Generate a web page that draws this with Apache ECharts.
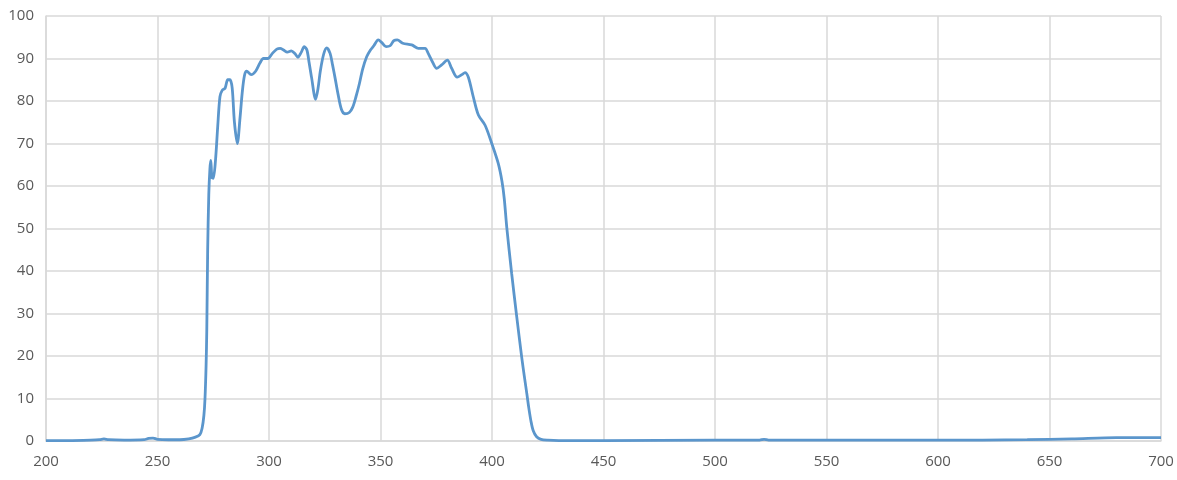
<!DOCTYPE html>
<html>
<head>
<meta charset="utf-8">
<script src="https://cdn.jsdelivr.net/npm/echarts@6/dist/echarts.min.js"></script>
<style>html,body{margin:0;padding:0;background:#fff;}#c{width:1177px;height:480px;}</style>
</head>
<body>
<div id="c"></div>
<script>
const wavelength = [200,210,220,224,226,228,235,244,246,248,250,255,260,264,267,269,270,270.8,271.3,271.8,272.1,272.5,273.0,273.5,273.9,274.4,275,276,277,278,279,280.3,281.5,282.5,283.5,284.5,285.8,287,288,289,290,292,294,296,297.5,299.5,301.5,303.5,305,306.5,308.2,310,311.7,313,314.5,315.8,317,318,319.1,320.9,322,323,324.5,325.9,327.4,328.5,329.6,331,332.5,334,336,337.5,339,340.5,342,343.8,345.5,347,349,350.5,352.5,354.3,356,357.5,360,364,367,370,371.4,373.5,375.2,377.4,380,381.9,384.4,386.5,387.9,389.4,391.6,393.9,396.9,399.9,402.8,404.5,405.5,406.6,408.8,411.1,413.3,414.5,415.6,416.5,417.5,418.5,420,422,425,430,450,500,520,522,524,550,600,640,660,680,700];
const transmission = [0.1,0.1,0.2,0.3,0.5,0.3,0.2,0.3,0.6,0.7,0.4,0.3,0.3,0.5,0.9,1.5,3,6,10,18,26,45,58,64,66,62,61.8,66,74,81,82.5,83,85,85,83,75,70,76,82,86,87,86.2,87,89,90,90,91.2,92.2,92.4,92,91.5,91.8,91.1,90.3,91.5,92.8,92,89,85.5,80.4,83,87,91,92.5,91.2,88.5,85.5,81.5,78,77,77.3,78.5,81,84,87.5,90.4,92,93,94.4,93.8,92.8,93,94.2,94.4,93.6,93.2,92.4,92.4,91.2,89,87.7,88.5,89.6,87.7,85.6,86.2,86.7,85.6,81,76.7,74.3,70,65.3,61,57,50.4,39.5,29.2,19.8,15.2,11.2,7.8,4.6,2.4,1.0,0.4,0.2,0.1,0.1,0.2,0.2,0.4,0.2,0.2,0.2,0.3,0.5,0.8,0.8];
const xTicks = [200,250,300,350,400,450,500,550,600,650,700];
const yTicks = [0,10,20,30,40,50,60,70,80,90,100];

const chart = echarts.init(document.getElementById('c'), null, {renderer:'canvas'});
const gridColor = '#d9d9d9';
const labelColor = '#595959';
chart.setOption({
  animation:false,
  grid:{left:46, right:16, top:16, bottom:39, containLabel:false},
  xAxis:{
    type:'value', min:xTicks[0], max:xTicks[xTicks.length-1], interval:50,
    axisLine:{show:true, lineStyle:{color:gridColor, width:1.5}},
    axisTick:{show:false},
    axisLabel:{color:labelColor, fontSize:15, fontFamily:'Open Sans', margin:13},
    splitLine:{show:true, lineStyle:{color:gridColor, width:1.5}}
  },
  yAxis:{
    type:'value', min:yTicks[0], max:yTicks[yTicks.length-1], interval:10,
    axisLine:{show:true, lineStyle:{color:gridColor, width:1.5}},
    axisTick:{show:false},
    axisLabel:{color:labelColor, fontSize:15, fontFamily:'Open Sans', margin:12},
    splitLine:{show:true, lineStyle:{color:gridColor, width:1.5}}
  },
  series:[{
    type:'line',
    data: wavelength.map((w,i)=>[w, transmission[i]]),
    showSymbol:false,
    smooth:0.3,
    lineStyle:{color:'#5b96cc', width:2.8},
    itemStyle:{color:'#5b96cc'}
  }]
});
</script>
</body>
</html>
